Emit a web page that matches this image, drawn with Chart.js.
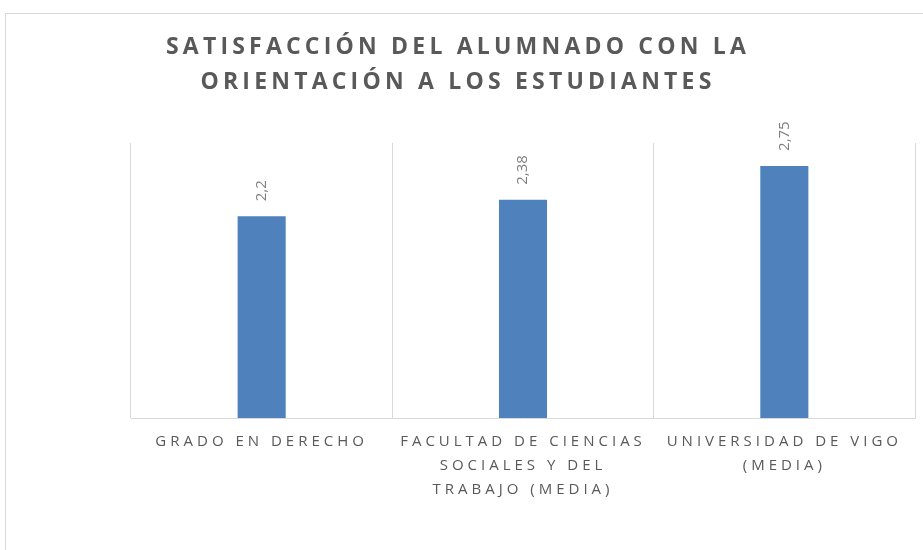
<!DOCTYPE html>
<html>
<head>
<meta charset="utf-8">
<script src="https://cdn.jsdelivr.net/npm/chart.js@4.4.1/dist/chart.umd.min.js"></script>
<style>
html,body{margin:0;padding:0;background:#fff;}
#wrap{width:923px;height:550px;position:relative;}
</style>
</head>
<body>
<div id="wrap"><canvas id="c" width="923" height="550"></canvas></div>
<script>
const categories = [
  ["GRADO EN DERECHO"],
  ["FACULTAD DE CIENCIAS", "SOCIALES Y DEL", "TRABAJO (MEDIA)"],
  ["UNIVERSIDAD DE VIGO", "(MEDIA)"]
];
const values = [2.2, 2.38, 2.75];
const titleLines = ["SATISFACCIÓN DEL ALUMNADO CON LA", "ORIENTACIÓN A LOS ESTUDIANTES"];

const FONT = "'Open Sans', Lato, sans-serif";

const framePlugin = {
  id: 'frame',
  beforeDraw(chart) {
    const ctx = chart.ctx;
    ctx.save();
    ctx.fillStyle = '#ffffff';
    ctx.fillRect(0, 0, chart.width, chart.height);
    ctx.strokeStyle = '#d9d9d9';
    ctx.lineWidth = 1;
    ctx.strokeRect(5.5, 13.5, 1000, 1000);
    // title
    ctx.fillStyle = '#595959';
    ctx.font = "bold 23px " + FONT;
    ctx.letterSpacing = '4.2px';
    ctx.textAlign = 'center';
    ctx.textBaseline = 'middle';
    ctx.fillText(titleLines[0], 458, 47);
    ctx.fillText(titleLines[1], 458, 82);
    ctx.restore();
    ctx.letterSpacing = '4px';
  },
  afterDatasetsDraw(chart) {
    const ctx = chart.ctx;
    const meta = chart.getDatasetMeta(0);
    ctx.save();
    ctx.letterSpacing = '0px';
    ctx.fillStyle = '#7f7f7f';
    ctx.font = "15px " + FONT;
    ctx.textAlign = 'left';
    ctx.textBaseline = 'middle';
    meta.data.forEach((bar, i) => {
      const txt = String(values[i]).replace('.', ',');
      ctx.save();
      ctx.translate(bar.x, bar.y - 15);
      ctx.rotate(-Math.PI / 2);
      ctx.fillText(txt, 0, 0);
      ctx.restore();
    });
    ctx.restore();
  }
};

new Chart(document.getElementById('c'), {
  type: 'bar',
  data: {
    labels: categories,
    datasets: [{
      data: values,
      backgroundColor: '#4F81BD',
      borderWidth: 0,
      categoryPercentage: 1,
      barPercentage: 0.184
    }]
  },
  options: {
    responsive: false,
    animation: false,
    events: [],
    layout: { padding: { left: 131, right: 8, top: 143, bottom: 0 } },
    plugins: {
      legend: { display: false },
      title: { display: false },
      tooltip: { enabled: false }
    },
    scales: {
      x: {
        grid: { color: '#d9d9d9', drawTicks: false, offset: true },
        border: { color: '#d9d9d9' },
        ticks: {
          color: '#595959',
          font: { family: FONT, size: 15, lineHeight: 1.6 },
          padding: 12,
          maxRotation: 0,
          minRotation: 0,
          autoSkip: false
        },
        afterFit(scale) { scale.height = 132; }
      },
      y: {
        display: false,
        min: 0,
        max: 3
      }
    }
  },
  plugins: [framePlugin]
});
</script>
</body>
</html>
